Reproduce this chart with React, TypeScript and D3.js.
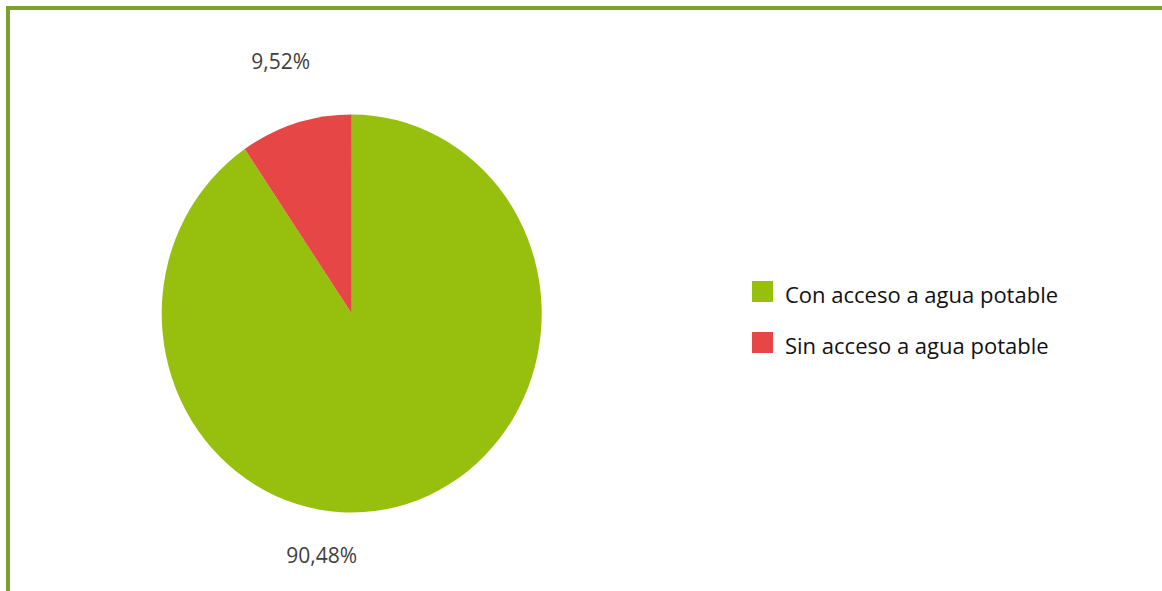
import React from "react";
import * as d3 from "d3";

const categories = ["Con acceso a agua potable", "Sin acceso a agua potable"];
const values = [90.48, 9.52];
const valueLabels = ["90,48%", "9,52%"];
const colors = ["#97bf0d", "#e64646"];

const W = 1162;
const H = 591;
const cx = 351.7;
const cy = 313.5;
const rx = 190;
const ry = 199;

export default function App() {
  const pie = d3
    .pie<number>()
    .sort(null)
    .startAngle(0)
    .endAngle(2 * Math.PI)
    .value((d) => d);
  const arcs = pie(values);
  const arc = d3.arc<d3.PieArcDatum<number>>().innerRadius(0).outerRadius(rx);

  const labelPos = [
    { x: cx - 30, y: cy + ry + 50 },
    { x: cx - 71, y: cy - ry - 46 },
  ];

  return (
    <div style={{ position: "fixed", left: 0, top: 0, width: W, height: H, background: "#fff" }}>
      <svg width={W} height={H} style={{ display: "block" }}>
        <rect x={0} y={0} width={W} height={H} fill="#ffffff" />
        <path d={`M8,${H} V8 H${W}`} fill="none" stroke="#7ba22e" strokeWidth={4} />
        <g transform={`translate(${cx},${cy}) scale(1,${ry / rx})`}>
          {arcs.map((a, i) => (
            <path key={i} d={arc(a) || ""} fill={colors[i]} />
          ))}
        </g>
        {arcs.map((a, i) => (
          <text
            key={"l" + i}
            x={labelPos[i].x}
            y={labelPos[i].y}
            textAnchor="middle"
            fontFamily="'Open Sans', sans-serif"
            fontSize={21}
            fill="#404040"
          >
            {valueLabels[i]}
          </text>
        ))}
        {categories.map((c, i) => (
          <g key={"g" + i} transform={`translate(752,${281 + i * 51})`}>
            <rect x={0} y={0} width={21} height={21} fill={colors[i]} />
            <text
              x={33}
              y={22}
              fontFamily="'Open Sans', sans-serif"
              fontSize={22}
              fill="#111"
            >
              {c}
            </text>
          </g>
        ))}
      </svg>
    </div>
  );
}
